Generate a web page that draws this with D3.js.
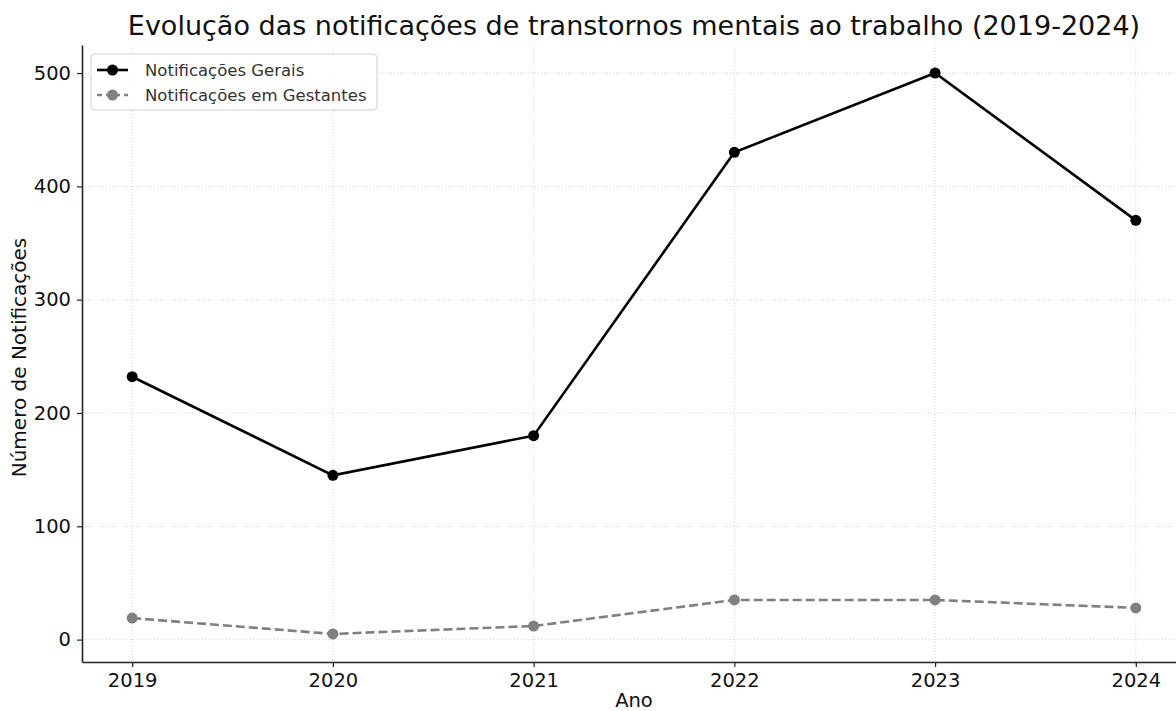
<!DOCTYPE html>
<html>
<head>
<meta charset="utf-8">
<script src="https://cdn.jsdelivr.net/npm/d3@7"></script>
<style>
  body { margin: 0; background: #fff; }
  svg { font-family: "DejaVu Sans", sans-serif; display: block; }
</style>
</head>
<body>
<div id="chart"></div>
<script>
// Data
const years = [2019, 2020, 2021, 2022, 2023, 2024];
const gerais = [232, 145, 180, 430, 500, 370];
const gestantes = [19, 5, 12, 35, 35, 28];
const yTicks = [0, 100, 200, 300, 400, 500];

// Sizes
const W = 1176;
const H = 711;
const margin = { top: 45, right: -10, bottom: 49, left: 82 };
const width = W - margin.left - margin.right;
const height = H - margin.top - margin.bottom;

const svg = d3.select('#chart')
  .append('svg')
  .attr('width', W)
  .attr('height', H);

const g = svg.append('g')
  .attr('transform', `translate(${margin.left},${margin.top})`);

// scales (matplotlib-like margins)
const x = d3.scaleLinear()
  .domain([2018.75, 2024.25])
  .range([0, width]);
const y = d3.scaleLinear()
  .domain([-19.75, 524.75])
  .range([height, 0]);

// grid
g.append('g')
  .selectAll('line')
  .data(years)
  .join('line')
  .attr('x1', (d) => x(d)).attr('x2', (d) => x(d))
  .attr('y1', 0).attr('y2', height)
  .attr('stroke', '#c8c8c8')
  .attr('stroke-width', 0.8)
  .attr('stroke-dasharray', '1,2');
g.append('g')
  .selectAll('line')
  .data(yTicks)
  .join('line')
  .attr('x1', 0).attr('x2', width)
  .attr('y1', (d) => y(d)).attr('y2', (d) => y(d))
  .attr('stroke', '#c8c8c8')
  .attr('stroke-width', 0.8)
  .attr('stroke-dasharray', '1,2');

// axes
const xAxis = g.append('g')
  .attr('transform', `translate(0,${height})`)
  .call(d3.axisBottom(x).tickValues(years).tickFormat(d3.format('d'))
    .tickSize(5).tickSizeOuter(0).tickPadding(6));
const yAxis = g.append('g')
  .call(d3.axisLeft(y).tickValues(yTicks)
    .tickSize(5).tickSizeOuter(0).tickPadding(6));

[xAxis, yAxis].forEach((a) => {
  a.select('.domain').attr('stroke', '#262626').attr('stroke-width', 1.6);
  a.selectAll('.tick line').attr('stroke', '#262626').attr('stroke-width', 1.2);
  a.selectAll('.tick text')
    .attr('font-size', 19.5)
    .attr('fill', '#111')
    .attr('font-family', '"DejaVu Sans", sans-serif');
});

// lines
const line = d3.line()
  .x((d, i) => x(years[i]))
  .y((d) => y(d));

g.append('path')
  .datum(gestantes)
  .attr('fill', 'none')
  .attr('stroke', '#808080')
  .attr('stroke-width', 2.6)
  .attr('stroke-dasharray', '9,4')
  .attr('d', line);
g.append('g')
  .selectAll('circle')
  .data(gestantes)
  .join('circle')
  .attr('cx', (d, i) => x(years[i]))
  .attr('cy', (d) => y(d))
  .attr('r', 5.5)
  .attr('fill', '#808080');

g.append('path')
  .datum(gerais)
  .attr('fill', 'none')
  .attr('stroke', '#000')
  .attr('stroke-width', 2.6)
  .attr('d', line);
g.append('g')
  .selectAll('circle')
  .data(gerais)
  .join('circle')
  .attr('cx', (d, i) => x(years[i]))
  .attr('cy', (d) => y(d))
  .attr('r', 5.5)
  .attr('fill', '#000');

// title and labels
svg.append('text')
  .attr('x', margin.left + width / 2)
  .attr('y', 35)
  .attr('text-anchor', 'middle')
  .attr('font-size', 27)
  .attr('fill', '#111')
  .text('Evolução das notificações de transtornos mentais ao trabalho (2019-2024)');

svg.append('text')
  .attr('x', margin.left + x(2021.5))
  .attr('y', H - 4)
  .attr('text-anchor', 'middle')
  .attr('font-size', 19.5)
  .attr('fill', '#111')
  .text('Ano');

svg.append('text')
  .attr('transform', `translate(26,${margin.top + height / 2 + 4}) rotate(-90)`)
  .attr('text-anchor', 'middle')
  .attr('font-size', 20)
  .attr('fill', '#111')
  .text('Número de Notificações');

// legend
const legendItems = [
  { label: 'Notificações Gerais', color: '#000', dash: null },
  { label: 'Notificações em Gestantes', color: '#808080', dash: '5,4' },
];
const legend = g.append('g').attr('transform', 'translate(9,9)');
legend.append('rect')
  .attr('width', 286)
  .attr('height', 56)
  .attr('rx', 4)
  .attr('fill', '#fff')
  .attr('fill-opacity', 0.85)
  .attr('stroke', '#d0d0d0');
legendItems.forEach((d, i) => {
  const row = legend.append('g').attr('transform', `translate(6,${16 + i * 25})`);
  row.append('line')
    .attr('x1', 0).attr('x2', 31)
    .attr('stroke', d.color)
    .attr('stroke-width', 2.6)
    .attr('stroke-dasharray', d.dash);
  row.append('circle')
    .attr('cx', 15.5)
    .attr('r', 5.5)
    .attr('fill', d.color);
  row.append('text')
    .attr('x', 48)
    .attr('dy', '0.35em')
    .attr('font-size', 16.5)
    .attr('fill', '#333')
    .text(d.label);
});
</script>
</body>
</html>
